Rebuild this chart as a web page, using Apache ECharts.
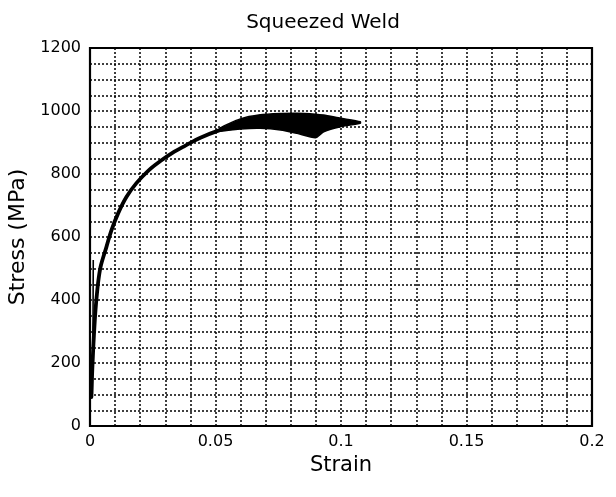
<!DOCTYPE html>
<html>
<head>
<meta charset="utf-8">
<script src="https://cdn.jsdelivr.net/npm/echarts@6/dist/echarts.min.js"></script>
<style>
  html, body { margin: 0; padding: 0; background: #fff; }
  #chart { width: 616px; height: 497px; }
</style>
</head>
<body>
<div id="chart"></div>
<script>
// ---- data ----
const titleText = 'Squeezed Weld';
const xName = 'Strain';
const yName = 'Stress (MPa)';
const xTickLabels = ['0', '0.05', '0.1', '0.15', '0.2'];
const yTickLabels = ['0', '200', '400', '600', '800', '1000', '1200'];

// main loading curve
const curveStrain = [0.00056, 0.00080, 0.00108, 0.00139, 0.00175, 0.00219, 0.00279, 0.00347, 0.00438, 0.00653, 0.00853, 0.01119, 0.01450, 0.01849, 0.02327, 0.02805, 0.03283, 0.03801, 0.04398, 0.05195, 0.05992];
const curveStress = [92, 157, 210, 263, 314, 368, 422, 470, 511, 568, 621, 675, 727, 771, 811, 841, 867, 890, 915, 940, 959];

// early unload/reload trace near the origin
const reloadStrain = [0.0009, 0.0012, 0.0013];
const reloadStress = [100, 330, 527];

// oscillation band (upper and lower envelopes)
const bandStrain = [0.0519, 0.0599, 0.0678, 0.0759, 0.0825, 0.0898, 0.0931, 0.0998, 0.1077];
const bandUpper  = [946, 975, 988, 992, 993, 990, 987, 977, 966];
const bandLower  = [936, 943, 945, 940, 929, 915, 934, 950, 961];

// ---- chart ----
const chart = echarts.init(document.getElementById('chart'));
const fontFam = '"DejaVu Sans", "Liberation Sans", Arial, sans-serif';
const gridLine = { color: '#000', width: 1.5, type: [2, 2] };

const curveData = curveStrain.map((s, i) => [s, curveStress[i]]);
const reloadData = reloadStrain.map((s, i) => [s, reloadStress[i]]);

chart.setOption({
  backgroundColor: '#fff',
  animation: false,
  title: {
    text: titleText,
    left: 318, top: 8, textAlign: 'center',
    textStyle: { fontFamily: fontFam, fontSize: 20, fontWeight: 'normal', color: '#000' }
  },
  grid: {
    left: 90, right: 24, top: 48, bottom: 71,
    outerBoundsMode: 'none', containLabel: false,
    show: true, borderColor: '#000', borderWidth: 2.2, backgroundColor: 'transparent'
  },
  xAxis: {
    type: 'value', min: 0, max: 0.2, interval: 0.01,
    name: xName, nameLocation: 'middle', nameGap: 24,
    nameTextStyle: { fontFamily: fontFam, fontSize: 21, color: '#000' },
    axisLine: { show: false },
    axisTick: { show: false },
    axisLabel: {
      fontFamily: fontFam, fontSize: 16, color: '#000', margin: 8,
      showMaxLabel: true,
      formatter: v => {
        const t = String(Math.round(v * 1000) / 1000);
        return xTickLabels.includes(t) ? t : '';
      }
    },
    splitLine: { show: true, lineStyle: gridLine }
  },
  yAxis: {
    type: 'value', min: 0, max: 1200, interval: 50,
    name: yName, nameLocation: 'middle', nameGap: 58,
    nameTextStyle: { fontFamily: fontFam, fontSize: 22, color: '#000' },
    axisLine: { show: false },
    axisTick: { show: false },
    axisLabel: {
      fontFamily: fontFam, fontSize: 16, color: '#000', margin: 9,
      formatter: v => {
        const t = String(Math.round(v));
        return yTickLabels.includes(t) ? t : '';
      }
    },
    splitLine: { show: true, lineStyle: gridLine }
  },
  series: [
    {
      type: 'line',
      data: reloadData,
      symbol: 'none',
      lineStyle: { color: '#000', width: 1.6 },
      z: 5
    },
    {
      type: 'line',
      data: curveData,
      smooth: 0.35,
      symbol: 'none',
      lineStyle: { color: '#000', width: 3.8, join: 'round', cap: 'round' },
      z: 5
    },
    {
      type: 'custom',
      data: [0],
      z: 6,
      renderItem: (params, api) => {
        const pts = [];
        for (let i = 0; i < bandStrain.length; i++) pts.push(api.coord([bandStrain[i], bandUpper[i]]));
        for (let i = bandStrain.length - 1; i >= 0; i--) pts.push(api.coord([bandStrain[i], bandLower[i]]));
        return {
          type: 'polygon',
          shape: { points: pts, smooth: 0.2 },
          style: { fill: '#000', stroke: '#000', lineWidth: 1.5 }
        };
      }
    }
  ]
});
</script>
</body>
</html>
